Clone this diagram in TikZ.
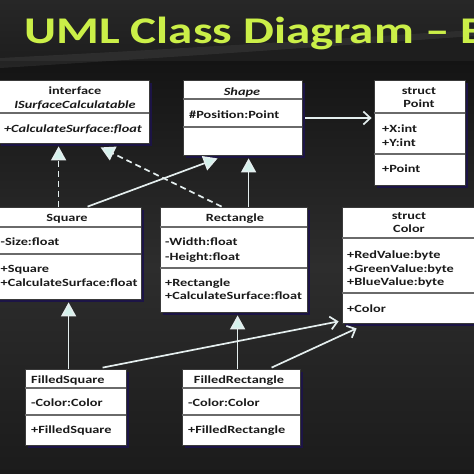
\documentclass[tikz,border=0pt]{standalone}
\usepackage{fontspec}
\newfontfamily\bxf[FakeStretch=1.3]{Carlito}
\usetikzlibrary{arrows.meta,calc,shadows}
\definecolor{bgtitle}{HTML}{272727}
\definecolor{bgtitleb}{HTML}{1E1E1E}
\definecolor{bgdark}{HTML}{141414}
\definecolor{bgmid}{HTML}{2D2D2D}
\definecolor{bgbot}{HTML}{1B1B1B}
\definecolor{titlec}{HTML}{CBEF48}
\definecolor{shadowc}{HTML}{1C1446}
\definecolor{edgec}{HTML}{3A3A3A}
\definecolor{sepc}{HTML}{6A6A6A}
\definecolor{textc}{HTML}{1A1A1A}
\definecolor{linec}{HTML}{E4EEEE}
\definecolor{trifill}{HTML}{D4F2EC}
\tikzset{
  classbox/.style={draw=edgec, line width=0.8pt, fill=white, inner sep=0pt,
    drop shadow={fill=shadowc, opacity=1, shadow xshift=2.5pt, shadow yshift=-2.5pt}},
  sepline/.style={draw=sepc, line width=1.1pt},
  txt/.style={anchor=base west, inner sep=0pt, text=textc, font=\bxf\bfseries\fontsize{11}{13}\selectfont},
  ctxt/.style={txt, anchor=base},
  itxt/.style={ctxt, font=\bxf\bfseries\itshape\fontsize{11}{13}\selectfont},
  conn/.style={draw=linec, line width=1.7pt},
  dconn/.style={conn, dash pattern=on 6pt off 4pt},
  tri/.style={-{Triangle[length=14pt,width=15pt,fill=trifill]}},
  barb/.style={-{Straight Barb[length=7pt,width=13pt]}}
}
\begin{document}
\begin{tikzpicture}[x=1pt,y=-1pt]
\useasboundingbox (0,0) rectangle (474,474);
% background
\shade[top color=bgdark, bottom color=bgbot, middle color=bgmid] (0,60) rectangle (474,474);
\shade[top color=bgtitle, bottom color=bgtitleb] (0,0) rectangle (474,60);
\fill[bgtitleb] (0,60) .. controls (160,50) and (320,40) .. (474,30) -- (474,60) -- cycle;
\fill[white, opacity=0.07] (0,58) .. controls (160,50) and (320,40) .. (474,30) -- (474,36) .. controls (320,47) and (160,58) .. (0,68) -- cycle;
% title
\node[anchor=base west, inner sep=0pt, text=titlec, font=\bxf\bfseries\fontsize{37.7}{40}\selectfont] (title) at (24,43) {UML Class Diagram – E};

% boxes
\node[classbox, minimum width=151pt, minimum height=63pt] (iface) at (73.5,111.5) {};
\node[classbox, minimum width=119pt, minimum height=75pt] (shape) at (242.5,117.5) {};
\node[classbox, minimum width=91pt, minimum height=105pt] (point) at (419.5,132.5) {};
\node[classbox, minimum width=149pt, minimum height=92pt] (square) at (66.5,253) {};
\node[classbox, minimum width=147pt, minimum height=105pt] (rect) at (233.5,259.5) {};
\node[classbox, minimum width=136pt, minimum height=116pt] (color) at (410,265) {};
\node[classbox, minimum width=101pt, minimum height=76pt] (fsq) at (75.5,407) {};
\node[classbox, minimum width=118pt, minimum height=76pt] (frect) at (241,407) {};

% separators
\draw[sepline] (iface.west |- 0,113) -- (iface.east |- 0,113);
\draw[sepline] (shape.west |- 0,99) -- (shape.east |- 0,99);
\draw[sepline] (shape.west |- 0,127) -- (shape.east |- 0,127);
\draw[sepline] (point.west |- 0,113) -- (point.east |- 0,113);
\draw[sepline] (point.west |- 0,154) -- (point.east |- 0,154);
\draw[sepline] (square.west |- 0,227) -- (square.east |- 0,227);
\draw[sepline] (square.west |- 0,254) -- (square.east |- 0,254);
\draw[sepline] (rect.west |- 0,227) -- (rect.east |- 0,227);
\draw[sepline] (rect.west |- 0,268) -- (rect.east |- 0,268);
\draw[sepline] (color.west |- 0,238) -- (color.east |- 0,238);
\draw[sepline] (color.west |- 0,293) -- (color.east |- 0,293);
\draw[sepline] (fsq.west |- 0,388) -- (fsq.east |- 0,388);
\draw[sepline] (fsq.west |- 0,415) -- (fsq.east |- 0,415);
\draw[sepline] (frect.west |- 0,388) -- (frect.east |- 0,388);
\draw[sepline] (frect.west |- 0,415) -- (frect.east |- 0,415);

% texts
\node[ctxt] (t1) at (75,94) {interface};
\node[itxt] (t2) at (75,108) {ISurfaceCalculatable};
\node[itxt] (t3) at (73,132) {+CalculateSurface:float};

\node[itxt] (t4) at (242,95) {Shape};
\node[txt] (t5) at (189,118) {\#Position:Point};

\node[ctxt] (t6) at (419,94) {struct};
\node[ctxt] (t7) at (419,107) {Point};
\node[txt] (t8) at (382,132) {+X:int};
\node[txt] (t9) at (382,146) {+Y:int};
\node[txt] (t10) at (382,172) {+Point};

\node[ctxt] (t11) at (67,221) {Square};
\node[txt] (t12) at (0.5,245) {-Size:float};
\node[txt] (t13) at (0.5,272) {+Square};
\node[txt] (t14) at (0.5,286) {+CalculateSurface:float};

\node[ctxt] (t15) at (235,221) {Rectangle};
\node[txt] (t16) at (165,245) {-Width:float};
\node[txt] (t17) at (165,260) {-Height:float};
\node[txt] (t18) at (165,286) {+Rectangle};
\node[txt] (t19) at (165,299) {+CalculateSurface:float};

\node[ctxt] (t20) at (409,219) {struct};
\node[ctxt] (t21) at (409,232) {Color};
\node[txt] (t22) at (347,258) {+RedValue:byte};
\node[txt] (t23) at (347,272) {+GreenValue:byte};
\node[txt] (t24) at (347,285) {+BlueValue:byte};
\node[txt] (t25) at (347,312) {+Color};

\node[txt] (t26) at (31,383) {FilledSquare};
\node[txt] (t27) at (31,406) {-Color:Color};
\node[txt] (t28) at (31,433) {+FilledSquare};

\node[ctxt] (t29) at (239,383) {FilledRectangle};
\node[txt] (t30) at (188,406) {-Color:Color};
\node[txt] (t31) at (188,433) {+FilledRectangle};

% connectors
\draw[dconn, tri] ($(square.north west)+(67,0)$) -- ($(iface.south west)+(61,3)$);
\draw[dconn, tri] ($(rect.north west)+(62,0)$) -- ($(iface.south west)+(103,4)$);
\draw[conn, tri] ($(square.north west)+(96,0)$) -- ($(shape.south west)+(35,3)$);
\draw[conn, tri] ($(rect.north west)+(89,0)$) -- ($(shape.south west)+(66,3)$);
\draw[conn, tri] ($(fsq.north west)+(44,0)$) -- ($(square.south west)+(77,3)$);
\draw[conn, tri] ($(frect.north west)+(56,0)$) -- ($(rect.south west)+(78,3)$);
\draw[conn, barb] ($(fsq.north west)+(78,-1)$) -- ($(color.south west)+(-3,-2)$);
\draw[conn, barb] ($(frect.north west)+(90,-1)$) -- ($(color.south west)+(15,5)$);
\draw[conn, barb] ($(shape.east)+(3,0.5)$) -- ($(point.west)+(-2,-14.5)$);
\end{tikzpicture}
\end{document}
